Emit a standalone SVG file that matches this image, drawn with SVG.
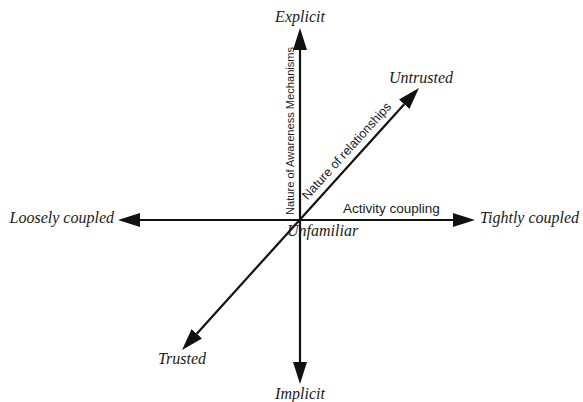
<svg xmlns="http://www.w3.org/2000/svg" width="583" height="402" viewBox="0 0 583 402">
  <style>
    .axis { stroke: #111; stroke-width: 2.2; fill: none; marker-start: url(#head); marker-end: url(#head); }
    .pole { font-family: "Liberation Serif", "Times New Roman", serif; font-style: italic; font-size: 16px; fill: #1a1a1a; }
    .dim { font-family: "Liberation Sans", Arial, sans-serif; fill: #1a1a1a; }
  </style>
  <defs>
    <marker id="head" viewBox="0 0 22 14" refX="0" refY="7" markerWidth="22" markerHeight="14" markerUnits="userSpaceOnUse" orient="auto-start-reverse">
      <path d="M0,0 L22,7 L0,14 z" fill="#111"/>
    </marker>
  </defs>

  <!-- axes, each line runs between the bases of its two arrowheads -->
  <g id="connectors">
    <line id="awareness-axis" class="axis" x1="300" y1="50" x2="300" y2="362"/>
    <line id="coupling-axis" class="axis" x1="140" y1="220" x2="453" y2="220"/>
    <line id="relationship-axis" class="axis" x1="196.8" y1="333.7" x2="404.2" y2="104.3"/>
  </g>

  <g id="explicit"><text class="pole" x="300" y="22" text-anchor="middle">Explicit</text></g>
  <g id="implicit"><text class="pole" x="300" y="399" text-anchor="middle">Implicit</text></g>
  <g id="loosely-coupled"><text class="pole" x="114" y="223" text-anchor="end">Loosely coupled</text></g>
  <g id="tightly-coupled"><text class="pole" x="480" y="223">Tightly coupled</text></g>
  <g id="untrusted"><text class="pole" x="389" y="83">Untrusted</text></g>
  <g id="trusted"><text class="pole" x="182" y="364" text-anchor="middle">Trusted</text></g>
  <g id="unfamiliar"><text class="pole" x="287" y="236">Unfamiliar</text></g>

  <g id="activity-coupling"><text class="dim" x="343" y="213" font-size="13.5">Activity coupling</text></g>
  <g id="awareness-label"><text class="dim" font-size="11.1" transform="translate(293.8,215) rotate(-90)">Nature of Awareness Mechanisms</text></g>
  <g id="relationship-label"><text class="dim" font-size="12.6" transform="translate(307.5,200.5) rotate(-47.9)">Nature of relationships</text></g>
</svg>
